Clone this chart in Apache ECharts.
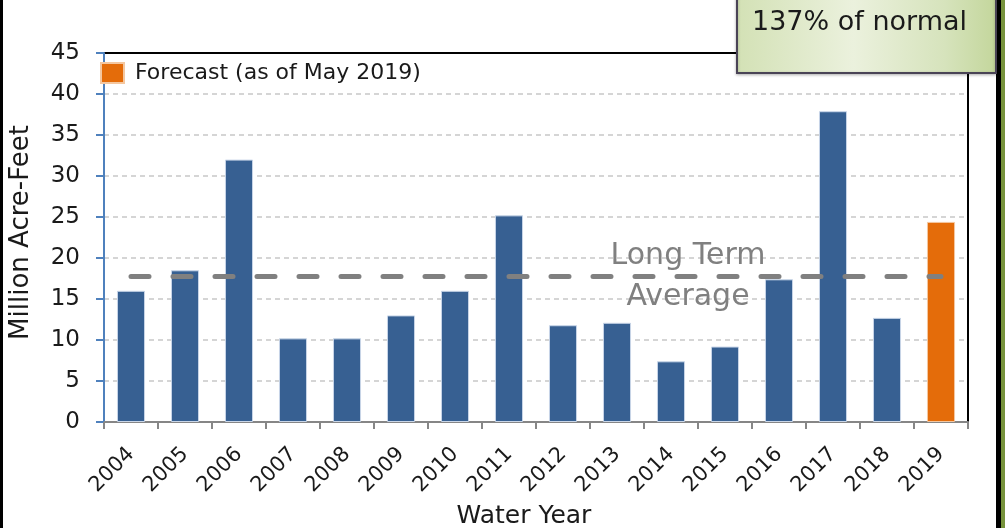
<!DOCTYPE html>
<html>
<head>
<meta charset="utf-8">
<script src="https://cdn.jsdelivr.net/npm/echarts@6/dist/echarts.min.js"></script>
<style>
	html, body { margin: 0; padding: 0; background: #fff; }
	#main { width: 1005px; height: 528px; }
</style>
</head>
<body>
<div id="main"></div>
<script>
// 数据
var years = ['2004', '2005', '2006', '2007', '2008', '2009', '2010', '2011',
	'2012', '2013', '2014', '2015', '2016', '2017', '2018', '2019'];
var actualVals = [16.0, 18.5, 32.0, 10.2, 10.2, 13.0, 16.0, 25.2,
	11.8, 12.1, 7.4, 9.2, 17.4, 37.9, 12.7, null];
var forecastVals = [null, null, null, null, null, null, null, null,
	null, null, null, null, null, null, null, 24.4];
var longTermAvg = 17.8;
var yTicks = [0, 5, 10, 15, 20, 25, 30, 35, 40, 45];

var FONT = 'DejaVu Sans';

var myChart = echarts.init(document.getElementById('main'));

var option = {
	backgroundColor : '#ffffff',
	animation : false,
	textStyle : {
		fontFamily : FONT
	},
	grid : {
		left : 104,
		right : 37,
		top : 53,
		bottom : 106,
		outerBoundsMode : 'none',
		containLabel : false,
		show : true,
		borderColor : '#000000',
		borderWidth : 2
	},
	legend : {
		data : [ 'Forecast (as of May 2019)' ],
		left : 100,
		top : 62,
		padding : 0,
		itemWidth : 23,
		itemHeight : 20,
		icon : 'rect',
		textStyle : {
			fontSize : 22,
			color : '#1a1a1a',
			fontFamily : FONT,
			padding : [ 0, 0, 0, 6 ]
		}
	},
	xAxis : {
		type : 'category',
		data : years,
		name : 'Water Year',
		nameLocation : 'middle',
		nameGap : 82,
		nameTextStyle : {
			fontSize : 25,
			color : '#1a1a1a',
			padding : [ 0, 24, 0, 0 ]
		},
		axisLine : {
			lineStyle : { color : '#868686', width : 2 }
		},
		axisTick : {
			show : true,
			length : 7,
			lineStyle : { color : '#868686', width : 2 }
		},
		axisLabel : {
			rotate : 45,
			fontSize : 21,
			color : '#1a1a1a',
			margin : 29,
			interval : 0
		}
	},
	yAxis : {
		type : 'value',
		min : 0,
		max : 45,
		interval : 5,
		name : 'Million Acre-Feet',
		nameLocation : 'middle',
		nameGap : 70,
		nameTextStyle : {
			fontSize : 26,
			color : '#1a1a1a',
			padding : [ 0, 0, 0, 10 ]
		},
		axisLine : {
			show : true,
			lineStyle : { color : '#4f81bd', width : 2 }
		},
		axisTick : {
			show : true,
			length : 8,
			lineStyle : { color : '#4f81bd', width : 2 }
		},
		axisLabel : {
			fontSize : 23,
			color : '#1a1a1a',
			margin : 24,
			formatter : function(v) {
				return yTicks.indexOf(v) >= 0 ? String(v) : '';
			}
		},
		splitLine : {
			show : true,
			showMinLine : false,
			showMaxLine : false,
			lineStyle : { color : '#c8c8c8', width : 1.5, type : [ 5, 4 ] }
		}
	},
	series : [ {
		name : 'Actual',
		type : 'bar',
		stack : 'wy',
		data : actualVals,
		barCategoryGap : '48%',
		itemStyle : {
			color : '#376092',
			borderColor : '#c9d6e8',
			borderWidth : 1
		},
		markLine : {
			silent : true,
			symbol : [ 'none', 'none' ],
			label : { show : false },
			lineStyle : {
				color : '#808080',
				width : 5,
				type : [ 18, 24 ],
				cap : 'round'
			},
			data : [ [ {
				coord : [ years[0], longTermAvg ]
			}, {
				coord : [ years[years.length - 1], longTermAvg ]
			} ] ]
		}
	}, {
		name : 'Forecast (as of May 2019)',
		type : 'bar',
		stack : 'wy',
		data : forecastVals,
		barCategoryGap : '48%',
		itemStyle : {
			color : '#e46c0a',
			borderColor : '#f4c7a0',
			borderWidth : 1
		}
	} ],
	graphic : [ {
		// 左侧黑边
		type : 'rect',
		shape : { x : 0, y : 0, width : 3, height : 528 },
		style : { fill : '#000000' }
	}, {
		// 右侧黑边 + 绿边
		type : 'rect',
		shape : { x : 996, y : 0, width : 5, height : 528 },
		style : { fill : '#000000' }
	}, {
		type : 'rect',
		shape : { x : 1001, y : 0, width : 4, height : 528 },
		style : { fill : '#77933c' }
	}, {
		// 137% 提示框
		type : 'rect',
		shape : { x : 737, y : -10, width : 259, height : 83 },
		style : {
			fill : new echarts.graphic.LinearGradient(0, 0, 1, 0, [
				{ offset : 0, color : '#d3e1b5' },
				{ offset : 0.45, color : '#ebf1dd' },
				{ offset : 0.8, color : '#d6e3bc' },
				{ offset : 1, color : '#c3d69b' }
			]),
			stroke : '#4a4456',
			lineWidth : 2,
			shadowColor : 'rgba(0,0,0,0.25)',
			shadowBlur : 3,
			shadowOffsetY : 1
		},
		z : 10
	}, {
		type : 'text',
		left : 752,
		top : 9,
		style : {
			text : '137% of normal',
			font : '27px "' + FONT + '"',
			fill : '#1a1a1a'
		},
		z : 11
	}, {
		// 长期平均标注
		type : 'text',
		x : 688,
		y : 256,
		style : {
			text : 'Long Term',
			font : '30px "' + FONT + '"',
			fill : '#808080',
			align : 'center',
			verticalAlign : 'middle'
		},
		z : 5
	}, {
		type : 'text',
		x : 688,
		y : 297,
		style : {
			text : 'Average',
			font : '30px "' + FONT + '"',
			fill : '#808080',
			align : 'center',
			verticalAlign : 'middle'
		},
		z : 5
	} ]
};

myChart.setOption(option);
</script>
</body>
</html>
